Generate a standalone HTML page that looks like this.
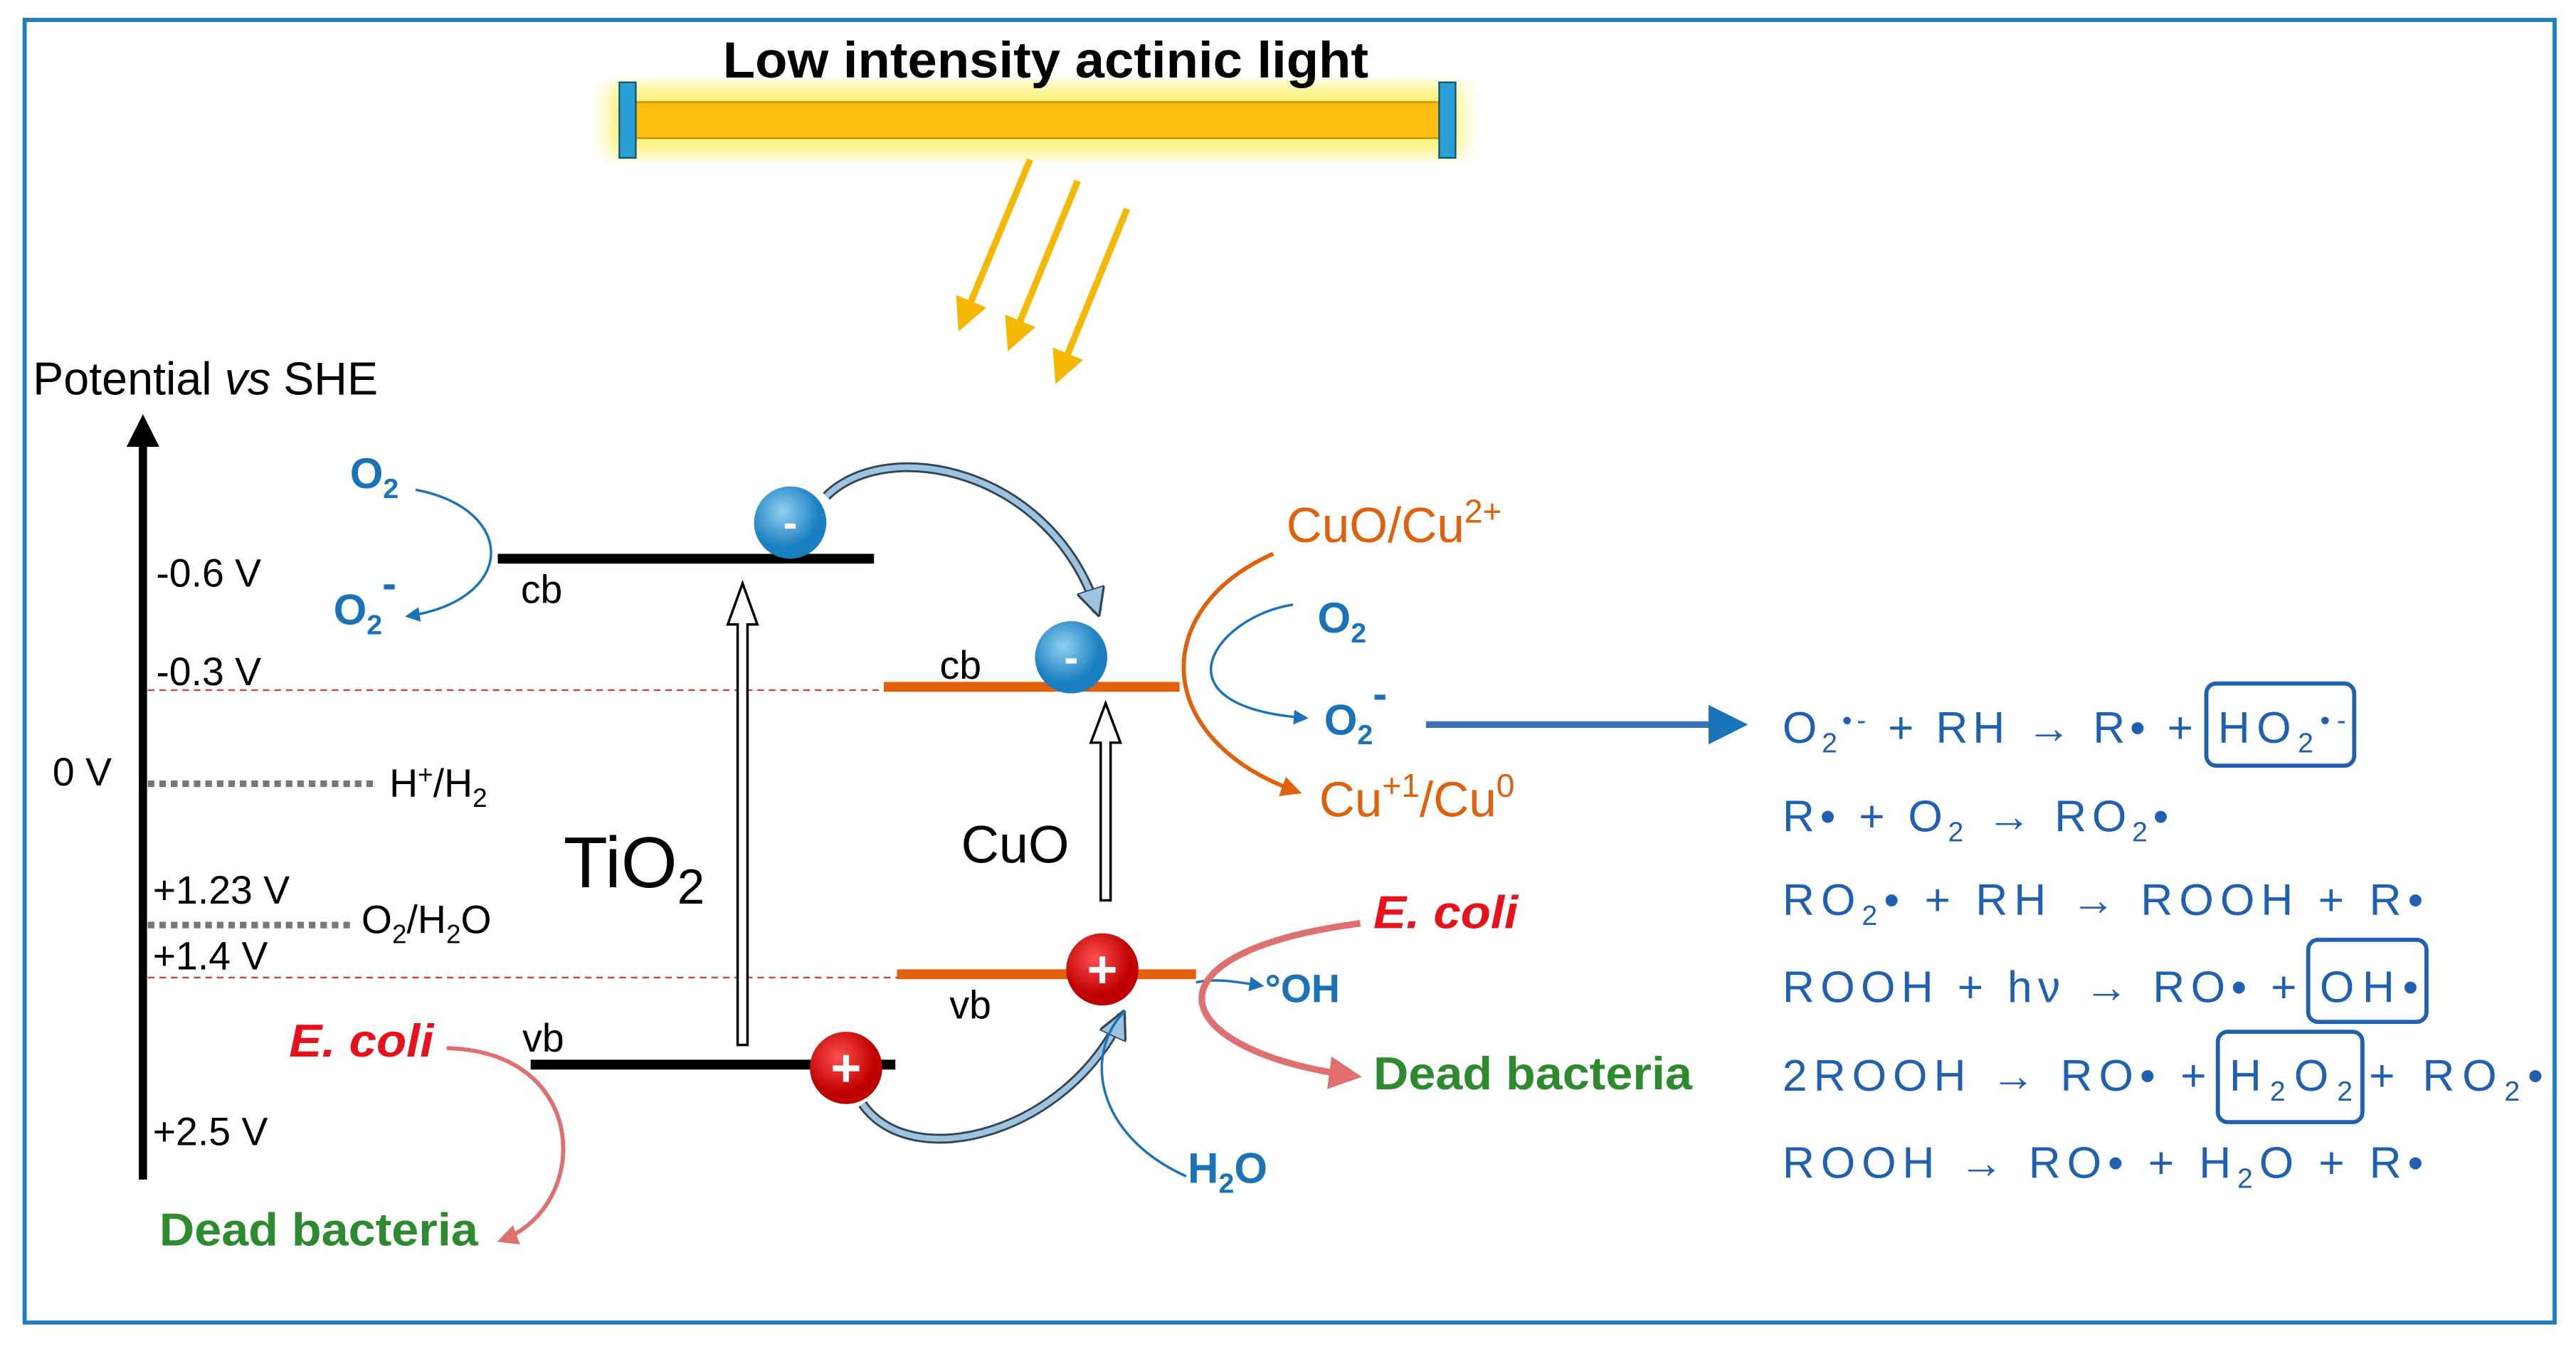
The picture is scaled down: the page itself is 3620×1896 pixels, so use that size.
<!DOCTYPE html>
<html><head><meta charset="utf-8"><style>html,body{margin:0;padding:0;background:#fff}svg{display:block}</style></head><body>
<svg width="3620" height="1896" viewBox="0 0 1568 821" xmlns="http://www.w3.org/2000/svg" font-family="Liberation Sans, sans-serif">
<defs>
<marker id="ab" markerWidth="6" markerHeight="6" refX="5" refY="3" orient="auto"><path d="M0,0L6,3L0,6z" fill="#1a73b8"/></marker>
<marker id="ay" markerWidth="5" markerHeight="5" refX="4" refY="2.5" orient="auto"><path d="M0,0L5,2.5L0,5z" fill="#f5b800"/></marker>
<marker id="ao" markerWidth="5" markerHeight="5" refX="4" refY="2.5" orient="auto"><path d="M0,0L5,2.5L0,5z" fill="#e0600c"/></marker>
<marker id="ap" markerWidth="5" markerHeight="5" refX="4" refY="2.5" orient="auto"><path d="M0,0L5,2.5L0,5z" fill="#e07070"/></marker>
<marker id="ak" markerWidth="4" markerHeight="4" refX="2" refY="2" orient="auto"><path d="M0,0L4,2L0,4z" fill="#000"/></marker>
<marker id="ag" markerWidth="5" markerHeight="5" refX="4" refY="2.5" orient="auto"><path d="M0,0L5,2.5L0,5z" fill="#9cc3e0" stroke="#345" stroke-width="0.4"/></marker>
<filter id="gl"><feGaussianBlur stdDeviation="6"/></filter>
<radialGradient id="bb" cx="40%" cy="35%"><stop offset="0" stop-color="#8fd0f0"/><stop offset="1" stop-color="#1a7fc0"/></radialGradient>
<radialGradient id="rb" cx="40%" cy="35%"><stop offset="0" stop-color="#ff5050"/><stop offset="1" stop-color="#c00000"/></radialGradient>
</defs>
<rect x="15" y="12" width="1540" height="793" fill="none" stroke="#1f7bc0" stroke-width="2.5"/>
<rect x="370" y="52" width="520" height="42" fill="#fff27a" filter="url(#gl)"/>
<text x="440" y="47" font-size="31" font-weight="bold" textLength="393" lengthAdjust="spacingAndGlyphs">Low intensity actinic light</text>
<rect x="383" y="62" width="497" height="22" fill="#fdbd10" stroke="#c89000"/>
<rect x="377" y="50" width="10" height="46" fill="#2a9fd6" stroke="#156"/>
<rect x="876" y="50" width="10" height="46" fill="#2a9fd6" stroke="#156"/>
<g stroke="#f5b800" stroke-width="4" marker-end="url(#ay)">
<line x1="627" y1="97" x2="585" y2="198"/><line x1="656" y1="110" x2="615" y2="210"/><line x1="686" y1="127" x2="644" y2="230"/></g>
<text x="20" y="240" font-size="28">Potential <tspan font-style="italic">vs</tspan> SHE</text>
<line x1="87" y1="718" x2="87" y2="262" stroke="#000" stroke-width="5" marker-end="url(#ak)"/>
<g font-size="24"><text x="95" y="357">-0.6 V</text><text x="95" y="417">-0.3 V</text><text x="32" y="478">0 V</text><text x="93" y="550">+1.23 V</text><text x="93" y="590">+1.4 V</text><text x="93" y="697">+2.5 V</text>
<text x="237" y="485">H<tspan font-size="16" dy="-8">+</tspan><tspan dy="8">/H</tspan><tspan font-size="16" dy="6">2</tspan></text>
<text x="220" y="568">O<tspan font-size="16" dy="6">2</tspan><tspan dy="-6">/H</tspan><tspan font-size="16" dy="6">2</tspan><tspan dy="-6">O</tspan></text>
<text x="317" y="367">cb</text><text x="318" y="640">vb</text><text x="572" y="413">cb</text><text x="578" y="620">vb</text></g>
<line x1="90" y1="420" x2="540" y2="420" stroke="#d04040" stroke-dasharray="4,3"/>
<line x1="90" y1="595" x2="548" y2="595" stroke="#d04040" stroke-dasharray="4,3"/>
<line x1="90" y1="477" x2="230" y2="477" stroke="#777" stroke-width="4" stroke-dasharray="4,3"/>
<line x1="90" y1="563" x2="213" y2="563" stroke="#777" stroke-width="4" stroke-dasharray="4,3"/>
<line x1="303" y1="340" x2="532" y2="340" stroke="#000" stroke-width="6"/>
<line x1="323" y1="648" x2="545" y2="648" stroke="#000" stroke-width="6"/>
<line x1="538" y1="418" x2="718" y2="418" stroke="#e0600c" stroke-width="6"/>
<line x1="546" y1="593" x2="728" y2="593" stroke="#e0600c" stroke-width="6"/>
<text x="343" y="540" font-size="44">TiO<tspan font-size="30" dy="10">2</tspan></text>
<text x="585" y="525" font-size="32">CuO</text>
<path d="M449,636V380h-6l9,-25l9,25h-6v256z" fill="#fff" stroke="#000" stroke-width="1.5"/>
<path d="M670,548V452h-6l9,-24l9,24h-6v96z" fill="#fff" stroke="#000" stroke-width="1.5"/>
<path d="M503,302C540,265 640,285 668,372" fill="none" stroke="#345" stroke-width="6"/>
<path d="M503,302C540,265 640,285 668,372" fill="none" stroke="#9cc3e0" stroke-width="3.5" marker-end="url(#ag)"/>
<path d="M525,672C555,715 650,690 683,618" fill="none" stroke="#345" stroke-width="6"/>
<path d="M525,672C555,715 650,690 683,618" fill="none" stroke="#9cc3e0" stroke-width="3.5" marker-end="url(#ag)"/>
<circle cx="481" cy="318" r="22" fill="url(#bb)"/><text x="481" y="327" font-size="26" fill="#fff" text-anchor="middle" font-weight="bold">-</text>
<circle cx="652" cy="400" r="22" fill="url(#bb)"/><text x="652" y="409" font-size="26" fill="#fff" text-anchor="middle" font-weight="bold">-</text>
<circle cx="671" cy="590" r="22" fill="url(#rb)"/><text x="671" y="601" font-size="32" fill="#fff" text-anchor="middle" font-weight="bold">+</text>
<circle cx="515" cy="650" r="22" fill="url(#rb)"/><text x="515" y="661" font-size="32" fill="#fff" text-anchor="middle" font-weight="bold">+</text>
<g fill="#1a73b8" font-weight="bold" font-size="26">
<text x="213" y="297">O<tspan font-size="17" dy="6">2</tspan></text>
<text x="203" y="380">O<tspan font-size="17" dy="6">2</tspan><tspan dy="-22">-</tspan></text>
<text x="802" y="385">O<tspan font-size="17" dy="6">2</tspan></text>
<text x="806" y="447">O<tspan font-size="17" dy="6">2</tspan><tspan dy="-22">-</tspan></text>
<text x="770" y="610" font-size="24">°OH</text>
<text x="723" y="720">H<tspan font-size="17" dy="6">2</tspan><tspan dy="-6">O</tspan></text></g>
<path d="M253,298C315,310 315,365 248,375" fill="none" stroke="#1a73b8" stroke-width="1.5" marker-end="url(#ab)"/>
<path d="M787,368C740,375 700,430 795,437" fill="none" stroke="#1a73b8" stroke-width="1.5" marker-end="url(#ab)"/>
<path d="M722,716C665,690 660,640 685,615" fill="none" stroke="#1a73b8" stroke-width="1.5"/>
<path d="M728,598C740,595 755,598 768,600" fill="none" stroke="#1a73b8" stroke-width="1.5" marker-end="url(#ab)"/>
<line x1="868" y1="441" x2="1060" y2="441" stroke="#3a70b8" stroke-width="4" marker-end="url(#ab)"/>
<path d="M775,337C700,370 700,450 790,482" fill="none" stroke="#e0600c" stroke-width="2.5" marker-end="url(#ao)"/>
<g fill="#e0600c" font-size="30"><text x="783" y="330">CuO/Cu<tspan font-size="20" dy="-12">2+</tspan></text>
<text x="803" y="497">Cu<tspan font-size="20" dy="-12">+1</tspan><tspan dy="12">/Cu</tspan><tspan font-size="20" dy="-12">0</tspan></text></g>
<path d="M272,638C360,640 360,735 305,755" fill="none" stroke="#e07070" stroke-width="2.5" marker-end="url(#ap)"/>
<path d="M828,562C690,580 710,640 825,655" fill="none" stroke="#e07070" stroke-width="4" marker-end="url(#ap)"/>
<g font-weight="bold" font-size="28"><text x="176" y="643" fill="#e8101a" font-style="italic" textLength="88" lengthAdjust="spacingAndGlyphs">E. coli</text><text x="836" y="565" fill="#e8101a" font-style="italic" textLength="88" lengthAdjust="spacingAndGlyphs">E. coli</text>
<text x="97" y="758" fill="#2e8a2e" textLength="194" lengthAdjust="spacingAndGlyphs">Dead bacteria</text><text x="836" y="663" fill="#2e8a2e" textLength="194" lengthAdjust="spacingAndGlyphs">Dead bacteria</text></g>
<g fill="#2060b0" font-size="27">
<text x="1085" y="452" textLength="250" lengthAdjust="spacing">O<tspan font-size="17" dy="6">2</tspan><tspan font-size="17" dy="-14">•-</tspan><tspan dy="8"> + RH → R• +</tspan></text>
<text x="1350" y="452" textLength="78" lengthAdjust="spacing">HO<tspan font-size="17" dy="6">2</tspan><tspan font-size="17" dy="-14">•-</tspan></text>
<text x="1085" y="506" textLength="235" lengthAdjust="spacing">R• + O<tspan font-size="17" dy="6">2</tspan><tspan dy="-6"> → RO</tspan><tspan font-size="17" dy="6">2</tspan><tspan dy="-6">•</tspan></text>
<text x="1085" y="557" textLength="390" lengthAdjust="spacing">RO<tspan font-size="17" dy="6">2</tspan><tspan dy="-6">• + RH → ROOH + R•</tspan></text>
<text x="1085" y="610" textLength="313" lengthAdjust="spacing">ROOH + hν → RO• +</text>
<text x="1412" y="610" textLength="60" lengthAdjust="spacing">OH•</text>
<text x="1085" y="664" textLength="258" lengthAdjust="spacing">2ROOH → RO• +</text>
<text x="1357" y="664" textLength="75" lengthAdjust="spacing">H<tspan font-size="17" dy="6">2</tspan><tspan dy="-6">O</tspan><tspan font-size="17" dy="6">2</tspan></text>
<text x="1442" y="664" textLength="106" lengthAdjust="spacing">+ RO<tspan font-size="17" dy="6">2</tspan><tspan dy="-6">•</tspan></text>
<text x="1085" y="717" textLength="390" lengthAdjust="spacing">ROOH → RO• + H<tspan font-size="17" dy="6">2</tspan><tspan dy="-6">O + R•</tspan></text></g>
<g fill="none" stroke="#2060b0" stroke-width="2.5">
<rect x="1343" y="416" width="90" height="50" rx="6"/><rect x="1405" y="572" width="72" height="50" rx="6"/><rect x="1350" y="628" width="88" height="55" rx="6"/></g>
</svg>
</body></html>
